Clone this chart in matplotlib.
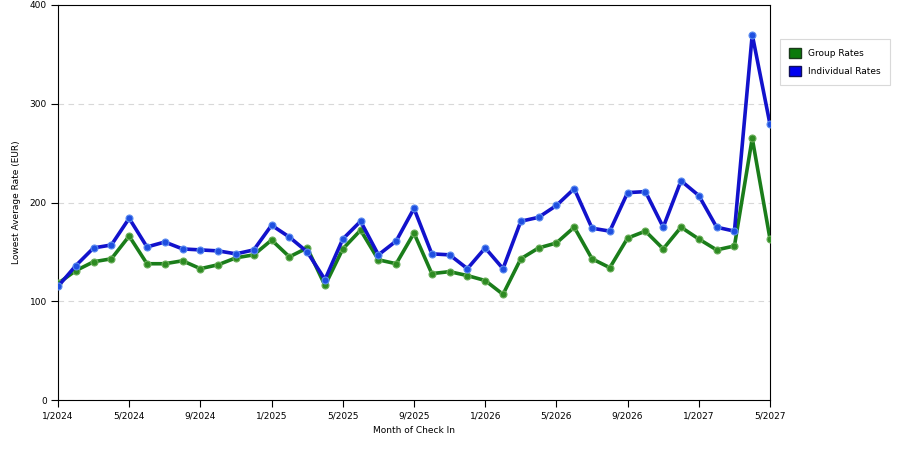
import matplotlib.pyplot as plt
from matplotlib.patches import Patch

months = [f"{(i % 12) + 1}/{2024 + i // 12}" for i in range(41)]
group_rates = [118, 131, 140, 143, 166, 138, 138, 141, 133, 137, 144, 147,
               162, 145, 154, 116, 153, 172, 142, 138, 169, 128, 130, 126,
               121, 107, 143, 154, 159, 175, 143, 134, 164, 171, 153, 175,
               163, 152, 156, 265, 163]
individual_rates = [115, 136, 154, 157, 184, 155, 160, 153, 152, 151, 148, 152,
                    177, 165, 150, 122, 163, 181, 147, 161, 194, 148, 147, 133,
                    154, 133, 181, 185, 197, 214, 174, 171, 210, 211, 175, 222,
                    207, 175, 171, 370, 279]
tick_labels = months[::4]

x = list(range(len(months)))

fig = plt.figure(figsize=(9, 4.5), dpi=100)
ax = fig.add_axes([0.0644, 0.111, 0.7912, 0.878])

ax.plot(x, group_rates, color='#1a7d1a', lw=2.6, marker='o', ms=5,
        mfc='#2e8b22', mec='#6aae5a', mew=0.8, zorder=3)
ax.plot(x, individual_rates, color='#1212cc', lw=2.6, marker='o', ms=5,
        mfc='#1f4fe0', mec='#5c8cf0', mew=0.8, zorder=4)

ax.set_xlim(0, 40)
ax.set_ylim(0, 400)
ax.set_xticks(x[::4])
ax.set_xticklabels(tick_labels)
ax.set_yticks([0, 100, 200, 300, 400])
ax.yaxis.grid(True, ls=(0, (5, 4)), color='#d8d8d8', lw=0.8)
ax.set_axisbelow(True)
ax.tick_params(labelsize=6.5, length=5, width=0.8, direction='out', pad=3)
for s in ax.spines.values():
    s.set_linewidth(0.8)

ax.set_xlabel('Month of Check In', fontsize=6.5, labelpad=4)
ax.set_ylabel('Lowest Average Rate (EUR)', fontsize=6.5, labelpad=6)

handles = [Patch(facecolor='#0a7a0a', edgecolor='#1a3a1a', label='Group Rates'),
           Patch(facecolor='#0000f0', edgecolor='#10105a', label='Individual Rates')]
leg = fig.legend(handles=handles, loc='upper left', bbox_to_anchor=(0.8667, 0.913),
                 fontsize=6.5, frameon=True, fancybox=False, handlelength=1.35,
                 handleheight=1.35, handletextpad=0.8, borderpad=1.0,
                 labelspacing=0.8, borderaxespad=0)
leg.get_frame().set_edgecolor('#d0d0d0')
leg.get_frame().set_linewidth(0.8)

fig.savefig('out.png', dpi=100)
